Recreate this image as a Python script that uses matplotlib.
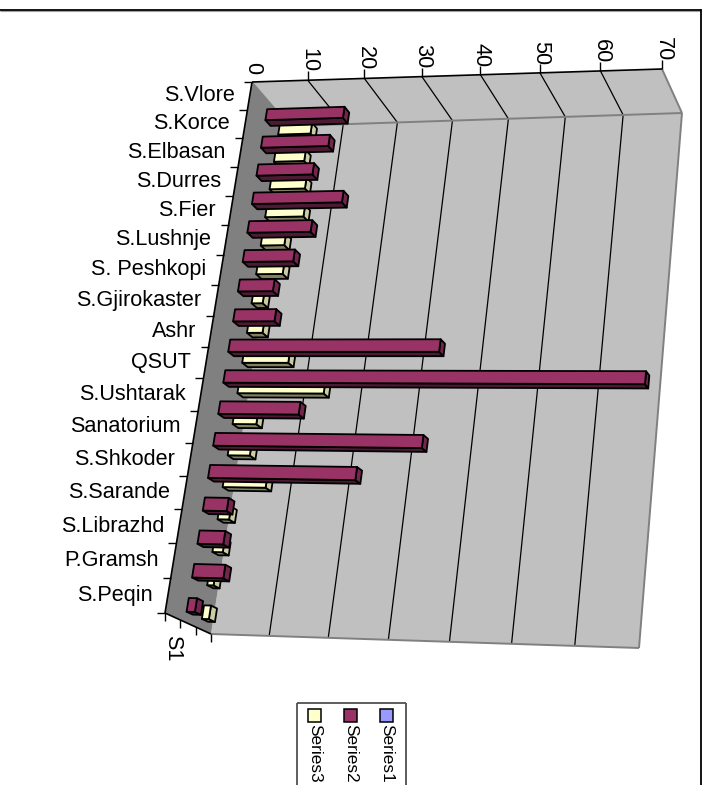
import numpy as np
import matplotlib
matplotlib.use("Agg")
import matplotlib.pyplot as plt
from matplotlib.patches import Polygon, Rectangle

plt.rcParams['font.family'] = ['Liberation Sans', 'DejaVu Sans']

categories = ["S.Vlore", "S.Korce", "S.Elbasan", "S.Durres", "S.Fier", "S.Lushnje",
              "S. Peshkopi", "S.Gjirokaster", "Ashr", "QSUT", "S.Ushtarak", "Sanatorium",
              "S.Shkoder", "S.Sarande", "S.Librazhd", "P.Gramsh", "S.Peqin"]
series1 = [0] * 17
series2 = [14.1, 12.2, 10.1, 16.1, 11.3, 9.0, 6.2, 7.3, 36.2, 70, 13.9, 35.3, 25.0, 4.1, 4.4, 5.3, 1.4]
series3 = [6.0, 5.6, 6.5, 7.0, 4.3, 4.8, 2.0, 2.8, 8.2, 15.2, 4.2, 3.9, 7.5, 2.0, 1.8, 1.1, 1.2]
value_ticks = [0, 10, 20, 30, 40, 50, 60, 70]
series_names = ["Series1", "Series2", "Series3"]
series_colors = ["#9999FF", "#993366", "#FFFFCC"]

VMAX = 70
NCAT = len(categories)

# Corners of the 3-D plot box on the canvas, indexed [value end][category end][depth end]
BOX = np.array([[[(252, 82), (290, 126)], [(165, 613), (211, 634)]],
                [[(662, 69), (682, 113)], [(611, 627), (639, 648)]]], dtype=float)


def foreshorten(s, k):
    return s / (s + k * (1 - s))


def project(value, cat, depth):
    u = foreshorten(value / VMAX, 1.06)
    t = foreshorten(cat / NCAT, 1.13)
    p = np.zeros(2)
    for i, wu in enumerate((1 - u, u)):
        for j, wt in enumerate((1 - t, t)):
            for k, wd in enumerate((1 - depth, depth)):
                p += wu * wt * wd * BOX[i, j, k]
    return p


fig = plt.figure(figsize=(7.06, 7.85), dpi=100)
ax = fig.add_axes([0, 0, 1, 1])
ax.set_xlim(0, 706)
ax.set_ylim(785, 0)
ax.axis("off")


def face(points, fc, ec="none", lw=0.0, z=1):
    ax.add_patch(Polygon(points, closed=True, facecolor=fc, edgecolor=ec, linewidth=lw,
                         joinstyle="round", zorder=z))


def seg(a, b, color="black", lw=1.0, z=2):
    ax.plot([a[0], b[0]], [a[1], b[1]], color=color, lw=lw, zorder=z, solid_capstyle="butt")


# Walls of the box
face([project(0, 0, 0), project(VMAX, 0, 0), project(VMAX, 0, 1), project(0, 0, 1)], "#C0C0C0")
face([project(0, 0, 1), project(VMAX, 0, 1), project(VMAX, NCAT, 1), project(0, NCAT, 1)], "#C0C0C0")
face([project(0, 0, 0), project(0, 0, 1), project(0, NCAT, 1), project(0, NCAT, 0)], "#808080")

# Gridlines over the top face and down the back wall
for v in value_ticks[1:-1]:
    seg(project(v, 0, 0), project(v, 0, 1), lw=0.9)
    seg(project(v, 0, 1), project(v, NCAT, 1), lw=0.9)

grey = "#808080"
seg(project(0, 0, 0), project(0, 0, 1), grey, 1.0)
seg(project(VMAX, 0, 0), project(VMAX, 0, 1), grey, 1.4)
seg(project(0, 0, 1), project(VMAX, 0, 1), grey, 1.4)
seg(project(VMAX, 0, 1), project(VMAX, NCAT, 1), grey, 1.4)
seg(project(0, NCAT, 1), project(VMAX, NCAT, 1), grey, 1.4)
seg(project(0, 0, 0), project(VMAX, 0, 0), "black", 1.2, z=3)
seg(project(0, 0, 0), project(0, NCAT, 0), "black", 1.2, z=3)
seg(project(0, NCAT, 0), project(0, NCAT, 1), "black", 1.2, z=3)


def bar3d(value, idx, d0, d1, front, side, cap, z):
    if value <= 0:
        return
    c0, c1 = idx + 0.3, idx + 0.7
    style = dict(ec="black", lw=1.3, z=z)
    face([project(0, c1, d0), project(value, c1, d0), project(value, c1, d1), project(0, c1, d1)], side, **style)
    face([project(value, c0, d0), project(value, c0, d1), project(value, c1, d1), project(value, c1, d0)], cap, **style)
    face([project(0, c0, d0), project(value, c0, d0), project(value, c1, d0), project(0, c1, d0)], front, **style)


for i in range(NCAT):
    bar3d(series3[i], i, 0.767, 0.9, "#FFFFCC", "#808060", "#CCCCA3", 4)
for i in range(NCAT):
    bar3d(series2[i], i, 0.433, 0.567, "#993366", "#4D1A33", "#73264D", 5)
    bar3d(series1[i], i, 0.1, 0.233, "#9999FF", "#4D4D80", "#7373BF", 6)

FS = 15.6

# Value axis along the front top edge
for v in value_ticks:
    x, y = project(v, 0, 0)
    if v > 0:
        seg((x, y), (x, y - 9), "black", 1.0)
    ax.text(x + 1, y - 8, str(v), rotation=270, ha="center", va="bottom", fontsize=FS, color="black")

# Category axis along the front left edge
for c in range(NCAT + 1):
    x, y = project(0, c, 0)
    seg((x - 8, y), (x, y), "black", 1.0)
for i, name in enumerate(categories):
    x, y = project(0, i + 0.5, 0)
    ax.text(x - 15, y, name, ha="right", va="center", fontsize=FS, color="black")

# Depth axis along the front bottom edge
for d in (0, 1 / 3, 2 / 3, 1):
    x, y = project(0, NCAT, d)
    seg((x, y), (x, y + 8), "black", 1.0)
sx, sy = project(0, NCAT, 1 / 6)
ax.text(sx, sy + 32, "S1", rotation=270, ha="center", va="center", fontsize=FS, color="black")

# Chart area border: only the top and right edges fall inside the canvas
seg((0, 9.5), (701, 9.5), "black", 1.3, z=8)
seg((0, 10.5), (701, 10.5), "#A0A0A0", 0.8, z=7)
seg((700.5, 9), (700.5, 785), "black", 1.3, z=8)

# Legend, which runs past the lower edge of the canvas
seg((297, 703), (405.5, 703), "#505050", 1.3, z=8)
seg((297, 703), (297, 785), "#505050", 1.3, z=8)
seg((405.5, 703), (405.5, 785), "#505050", 1.3, z=8)
for name, color, cx in zip(reversed(series_names), reversed(series_colors), (314.5, 350.5, 386.5)):
    ax.add_patch(Rectangle((cx - 6.5, 709), 13, 13, facecolor=color, edgecolor="black", linewidth=1.1, zorder=8))
    ax.text(cx, 724, name, rotation=270, ha="center", va="top", fontsize=12.4, color="black", zorder=8)

fig.savefig("out.png", dpi=100)
